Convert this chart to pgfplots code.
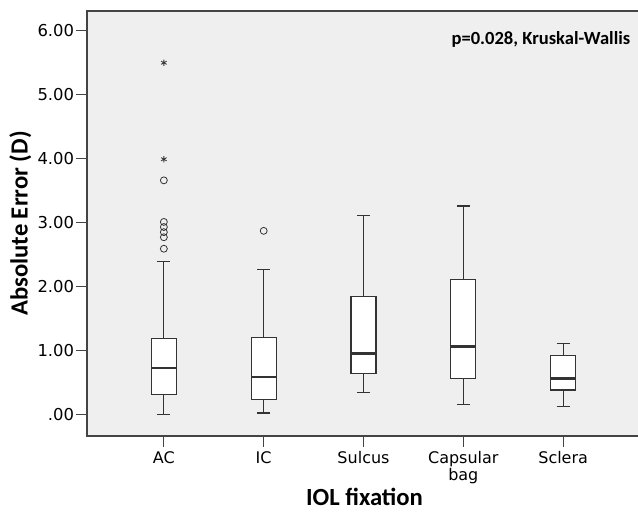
\documentclass[border=0pt]{standalone}
\usepackage{pgfplots}
\pgfplotsset{compat=1.18}
\usepgfplotslibrary{statistics}
\usepackage{fontspec}
\setmainfont{Carlito}
\newfontfamily\tickfont{DejaVu Sans}
\definecolor{bgpanel}{HTML}{EFEFEF}
\definecolor{framec}{HTML}{444444}
\definecolor{boxc}{HTML}{333333}

\begin{document}
\begin{tikzpicture}
	\begin{axis}[
			scale only axis,
			width=416.25pt, height=318.75pt,
			xmin=-0.77, xmax=4.79,
			ymin=-0.34, ymax=6.31,
			enlargelimits=false,
			axis background/.style={fill=bgpanel},
			axis line style={draw=framec, line width=1.1pt},
			tick align=outside,
			xtick pos=left, ytick pos=left,
			major tick length=8pt,
			tick style={draw=framec, line width=0.9pt},
			xtick={0,1,2,3,4},
			xticklabels={AC,IC,Sulcus,Capsular\\bag,Sclera},
			ytick={0,1,2,3,4,5,6},
			yticklabels={.00,1.00,2.00,3.00,4.00,5.00,6.00},
			xticklabel style={align=center, font=\tickfont\fontsize{12}{12.5}\selectfont},
			yticklabel style={font=\tickfont\fontsize{12.3}{12.3}\selectfont, inner xsep=1.5pt},
			/pgf/number format/assume math mode=true,
			xlabel={\bfseries IOL fixation},
			ylabel={\bfseries Absolute Error (D)},
			xlabel style={font=\fontsize{18.5}{18.5}\selectfont, anchor=base,
					at={(axis description cs:0.5,0)}, yshift=-51.75pt},
			ylabel style={font=\fontsize{18.5}{18.5}\selectfont, anchor=center,
					at={(axis description cs:-0.12,0.5)}},
			boxplot/draw direction=y,
			boxplot/box extend=0.25,
			boxplot/whisker extend=0.13,
			boxplot/every median/.style={line width=1.6pt},
			clip=false,
		]

		% boxes
		\addplot[draw=boxc, fill=white, line width=0.9pt, boxplot prepared={
					lower whisker=0.00, lower quartile=0.31, median=0.72,
					upper quartile=1.19, upper whisker=2.39, draw position=0}]
		coordinates {};
		\addplot[draw=boxc, fill=white, line width=0.9pt, boxplot prepared={
					lower whisker=0.02, lower quartile=0.23, median=0.59,
					upper quartile=1.20, upper whisker=2.26, draw position=1}]
		coordinates {};
		\addplot[draw=boxc, fill=white, line width=0.9pt, boxplot prepared={
					lower whisker=0.34, lower quartile=0.64, median=0.95,
					upper quartile=1.84, upper whisker=3.11, draw position=2}]
		coordinates {};
		\addplot[draw=boxc, fill=white, line width=0.9pt, boxplot prepared={
					lower whisker=0.15, lower quartile=0.56, median=1.06,
					upper quartile=2.11, upper whisker=3.26, draw position=3}]
		coordinates {};
		\addplot[draw=boxc, fill=white, line width=0.9pt, boxplot prepared={
					lower whisker=0.12, lower quartile=0.38, median=0.56,
					upper quartile=0.92, upper whisker=1.11, draw position=4}]
		coordinates {};

		% outliers (circles) and extremes (stars)
		\addplot[only marks, mark=o, mark size=2.6pt, draw=boxc, line width=0.6pt]
		coordinates {(0,3.66) (0,3.01) (0,2.93) (0,2.85) (0,2.77) (0,2.59) (1,2.87)};
		\addplot[only marks, mark=asterisk, mark size=2.4pt, draw=boxc, line width=0.6pt]
		coordinates {(0,5.50) (0,3.99)};

		\node[anchor=base west, inner sep=0pt, font=\fontsize{13.9}{13.9}\selectfont\bfseries]
		at (axis cs:2.88,5.78) {p=0.028, Kruskal-Wallis};
	\end{axis}
	\pgfresetboundingbox
	\path[use as bounding box] (current axis.south west) ++(-65.25pt,-56.25pt)
	rectangle ++(478.5pt,383.25pt);
\end{tikzpicture}
\end{document}
